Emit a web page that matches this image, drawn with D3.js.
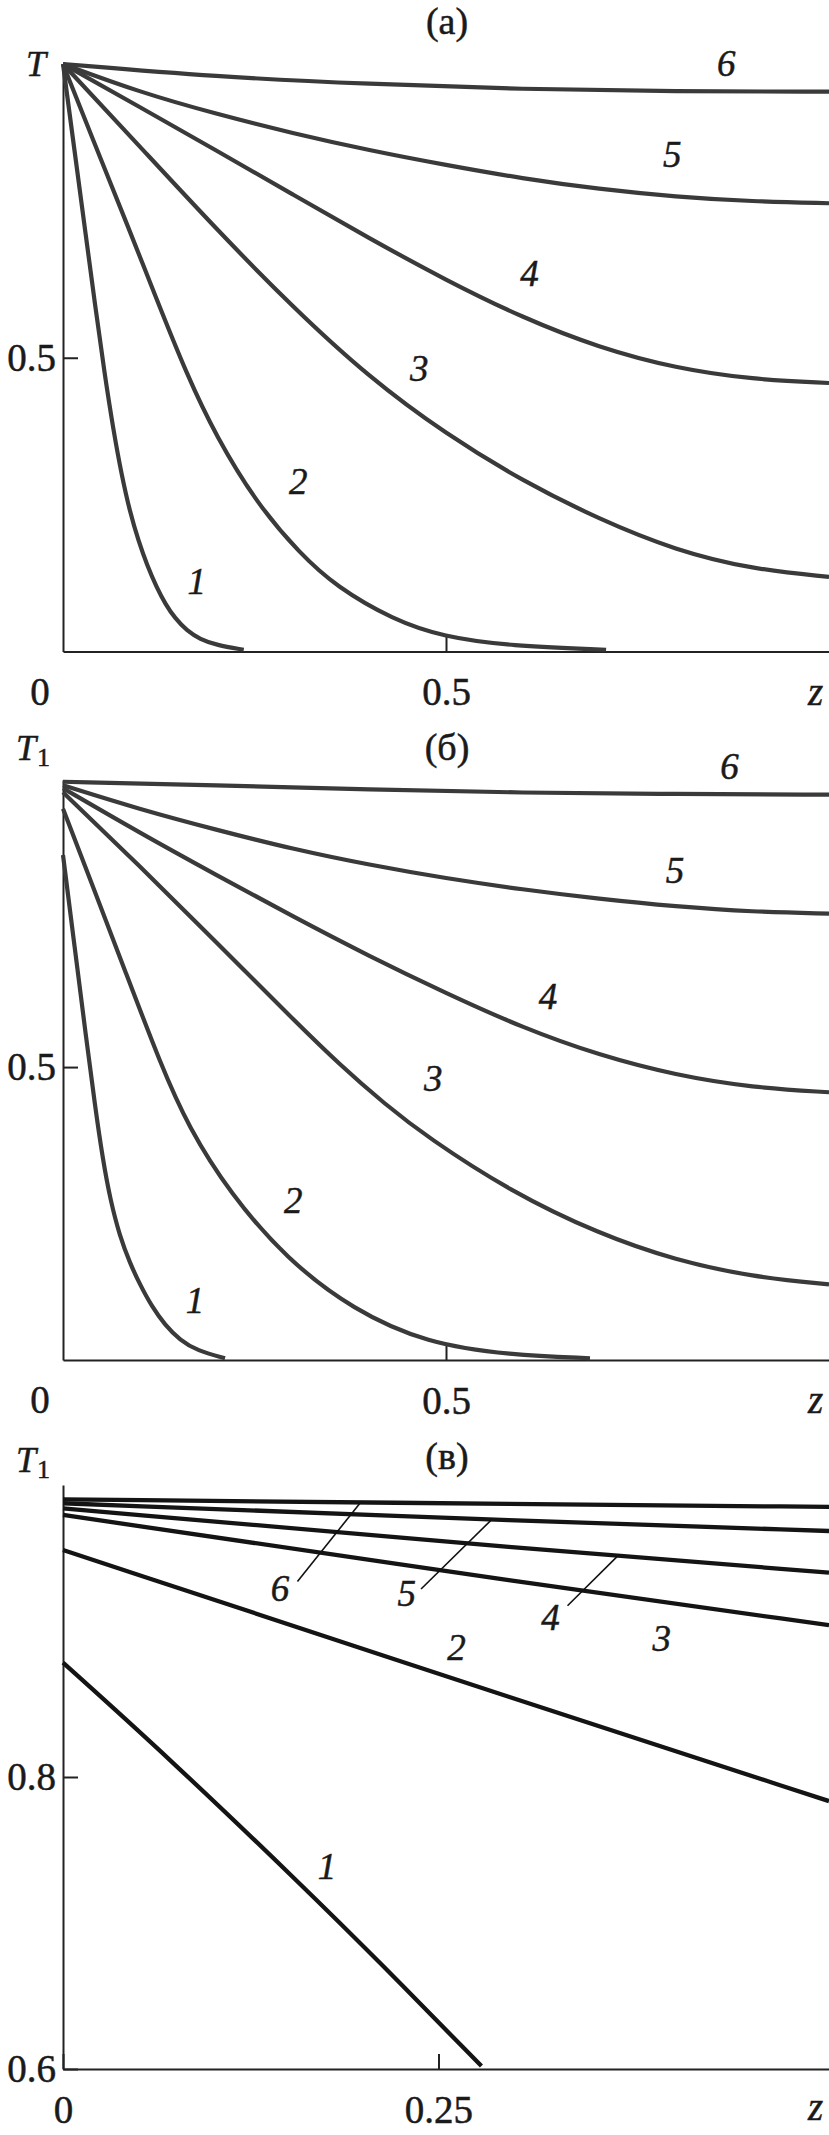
<!DOCTYPE html>
<html>
<head>
<meta charset="utf-8">
<script src="https://cdn.jsdelivr.net/npm/d3@7"></script>
<style>
  body { margin: 0; background: #fff; }
  svg text { font-family: "Liberation Serif", "Times New Roman", serif; fill: #1a1a1a; stroke: #1a1a1a; stroke-width: 0.5px; }
</style>
</head>
<body>
<svg id="chart" width="829" height="2135"></svg>
<script>
// Values, [z, T]
// panel (a)
const a1 = [[0,1],[0.015,0.853],[0.03,0.706],[0.042,0.589],[0.054,0.475],[0.066,0.375],[0.0766,0.3],[0.0875,0.237],[0.0983,0.189],[0.11,0.146],[0.122,0.11],[0.134,0.08],[0.146,0.057],[0.162,0.035],[0.179,0.021],[0.2,0.011],[0.236,0.003]];
const a2 = [[0,1],[0.04,0.868],[0.085,0.723],[0.12,0.607],[0.162,0.47],[0.2,0.366],[0.253,0.252],[0.309,0.167],[0.357,0.11],[0.431,0.054],[0.496,0.025],[0.584,0.0094],[0.709,0.003]];
const a3 = [[0,1],[0.1,0.86],[0.2,0.719],[0.3,0.586],[0.4,0.466],[0.5,0.37],[0.6,0.29],[0.7,0.225],[0.8,0.172],[0.9,0.14],[1,0.127]];
const a4 = [[0,1],[0.1,0.927],[0.2,0.853],[0.3,0.778],[0.4,0.703],[0.5,0.632],[0.6,0.568],[0.7,0.517],[0.8,0.482],[0.9,0.463],[1,0.457]];
const a5 = [[0,1],[0.1,0.952],[0.2,0.915],[0.3,0.882],[0.4,0.853],[0.5,0.828],[0.6,0.805],[0.7,0.787],[0.8,0.774],[0.9,0.766],[1,0.763]];
const a6 = [[0,1],[0.2,0.978],[0.4,0.966],[0.6,0.957],[0.8,0.953],[1,0.953]];

// panel (б)
const b1 = [[0,0.862],[0.015,0.707],[0.03,0.552],[0.042,0.432],[0.052,0.342],[0.062,0.272],[0.074,0.212],[0.0875,0.165],[0.1,0.13],[0.1158,0.0915],[0.133,0.06],[0.1527,0.034],[0.175,0.016],[0.2115,0.003]];
const b2 = [[0,0.941],[0.04,0.805],[0.08,0.668],[0.128,0.503],[0.1636,0.398],[0.218,0.2845],[0.292,0.172],[0.379,0.0853],[0.475,0.0285],[0.5836,0.0085],[0.688,0.003]];
const b3 = [[0,0.969],[0.05,0.906],[0.1,0.843],[0.15,0.778],[0.2,0.713],[0.25,0.648],[0.3,0.582],[0.362,0.503],[0.42,0.437],[0.4748,0.381],[0.5836,0.288],[0.7,0.215],[0.8,0.17],[0.9,0.142],[1,0.129]];
const b4 = [[0,0.976],[0.1,0.9],[0.2,0.828],[0.3,0.757],[0.4,0.689],[0.5,0.626],[0.6,0.567],[0.7,0.52],[0.8,0.486],[0.9,0.465],[1,0.457]];
const b5 = [[0,0.981],[0.1,0.94],[0.2,0.905],[0.3,0.872],[0.4,0.845],[0.5,0.822],[0.6,0.803],[0.7,0.787],[0.8,0.774],[0.9,0.765],[1,0.762]];
const b6 = [[0,0.987],[0.2,0.981],[0.4,0.974],[0.6,0.968],[0.8,0.966],[1,0.965]];

// panel (в)
const c1 = [[0,0.8783],[0.07,0.8135],[0.16,0.7249],[0.21,0.674],[0.2786,0.602]];
const c2 = [[0,0.9555],[0.3176,0.8477],[0.51,0.7835]];
const c3 = [[0,0.9795],[0.3176,0.9315],[0.51,0.904]];
const c4 = [[0,0.984],[0.3176,0.9555],[0.51,0.940]];
const c5 = [[0,0.9875],[0.3176,0.975],[0.51,0.9685]];
const c6 = [[0,0.9902],[0.3176,0.9868],[0.51,0.985]];

const curveNames = ["1", "2", "3", "4", "5", "6"];

// label anchors (data coords) for the curve numbers
const labelsA = [[0.1745,0.12],[0.307,0.289],[0.465,0.482],[0.609,0.644],[0.7955,0.8467],[0.866,1.0017]];
const labelsB = [[0.1723,0.1024],[0.3007,0.273],[0.4834,0.4807],[0.633,0.6206],[0.799,0.836],[0.87,1.0125]];
const labelsC = [[0.1757,0.7386],[0.262,0.889],[0.3986,0.8952],[0.3246,0.9092],[0.2288,0.9258],[0.1445,0.9293]];
// leader strokes in (в) for curves 6, 5, 4
const leadersC = [
  [[0.1561,0.9339],[0.1977,0.9875]],
  [[0.2384,0.9288],[0.2856,0.9765]],
  [[0.3359,0.9173],[0.3704,0.9525]]
];

const svg = d3.select("#chart");

function drawPanel(p) {
  const x = d3.scaleLinear().domain(p.xDomain).range([63, 829]);
  const y = d3.scaleLinear().domain(p.yDomain).range(p.yRange);
  const g = svg.append("g");
  const yBottom = p.yRange[0];

  // title
  g.append("text").attr("x", 447).attr("y", p.titleY)
    .attr("text-anchor", "middle").attr("font-size", 38).text(p.title);

  // T label
  const tl = g.append("text").attr("x", p.tX).attr("y", p.tY).attr("font-size", 36);
  tl.append("tspan").attr("font-style", "italic").text("T");
  if (p.sub) tl.append("tspan").attr("font-size", 26).attr("dy", 6).attr("dx", 1).text("1");

  // axes
  const xAxis = d3.axisBottom(x).tickValues(p.xTicks).tickFormat(p.xFormat)
    .tickSize(-15).tickSizeOuter(0).tickPadding(26);
  const yAxis = d3.axisLeft(y).tickValues(p.yTicks).tickFormat(d3.format(".1f"))
    .tickSize(-15).tickSizeOuter(0).tickPadding(7);

  const gx = g.append("g").attr("transform", `translate(0,${yBottom})`).call(xAxis);
  const gy = g.append("g").attr("transform", "translate(63,0)").call(yAxis);
  [gx, gy].forEach(a => {
    a.attr("font-family", null).attr("font-size", 39).attr("color", "#222");
    a.selectAll("path,line").attr("stroke-width", 2);
  });

  if (p.zeroLeft) {
    g.append("text").attr("x", 40).attr("y", yBottom + 53)
      .attr("text-anchor", "middle").attr("font-size", 39).text("0");
  }
  g.append("text").attr("x", 808).attr("y", yBottom + p.zOff)
    .attr("font-size", 39).attr("font-style", "italic").text("z");

  // curves
  const line = d3.line().x(d => x(d[0])).y(d => y(d[1])).curve(d3.curveBasis);
  g.selectAll("path.curve").data(p.series).enter().append("path")
    .attr("class", "curve")
    .attr("d", line)
    .attr("fill", "none")
    .attr("stroke", p.color)
    .attr("stroke-width", p.width)
    .attr("stroke-linecap", "butt");

  if (p.leaders) {
    g.selectAll("path.leader").data(p.leaders).enter().append("path")
      .attr("class", "leader")
      .attr("d", d3.line().x(d => x(d[0])).y(d => y(d[1])))
      .attr("stroke", "#111").attr("stroke-width", 1.6).attr("fill", "none");
  }

  g.selectAll("text.lbl").data(p.labels).enter().append("text")
    .attr("class", "lbl")
    .attr("x", d => x(d[0]))
    .attr("y", d => y(d[1]))
    .attr("dy", "0.34em")
    .attr("text-anchor", "middle")
    .attr("font-size", 37)
    .attr("font-style", "italic")
    .text((d, i) => curveNames[i]);
}

drawPanel({
  title: "(a)", titleY: 34, tX: 26, tY: 76, sub: false,
  xDomain: [0, 1], yDomain: [0, 1], yRange: [651.5, 64],
  xTicks: [0.5], xFormat: d3.format(".1f"), yTicks: [0.5], zeroLeft: true, zOff: 53,
  series: [a1, a2, a3, a4, a5, a6], labels: labelsA,
  color: "#3a3a3a", width: 4.2
});

drawPanel({
  title: "(б)", titleY: 760, tX: 16, tY: 760, sub: true,
  xDomain: [0, 1], yDomain: [0, 0.99], yRange: [1360, 780],
  xTicks: [0.5], xFormat: d3.format(".1f"), yTicks: [0.5], zeroLeft: true, zOff: 53,
  series: [b1, b2, b3, b4, b5, b6], labels: labelsB,
  color: "#3a3a3a", width: 4.2
});

drawPanel({
  title: "(в)", titleY: 1469, tX: 16, tY: 1472, sub: true,
  xDomain: [0, 0.51], yDomain: [0.6, 1.0], yRange: [2069, 1485],
  xTicks: [0, 0.25], xFormat: d => d === 0 ? "0" : "0.25", yTicks: [0.6, 0.8], zeroLeft: false, zOff: 51,
  series: [c1, c2, c3, c4, c5, c6], labels: labelsC, leaders: leadersC,
  color: "#141414", width: 4.3
});
</script>
</body>
</html>
